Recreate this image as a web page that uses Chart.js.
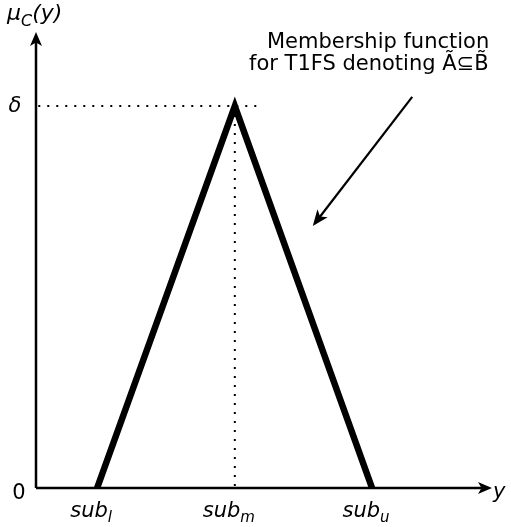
<!DOCTYPE html>
<html>
<head>
<meta charset="utf-8">
<script src="https://cdn.jsdelivr.net/npm/chart.js@4/dist/chart.umd.min.js"></script>
<style>
  body { margin: 0; background: #fff; }
  #wrap { width: 511px; height: 527px; position: relative; }
</style>
</head>
<body>
<div id="wrap"><canvas id="myChart"></canvas></div>
<script>
// x positions of the triangle corners (sub_l, sub_m, sub_u)
const categories = ["l", "m", "u"];
const xValues = [1.34, 4.36, 7.37];
const membership = [0, 1, 0];
const yTickLabels = ["0", "\u03B4"];
const yTickValues = [0, 1];

// dotted guide lines
const guideH = [{ x: 0.05, y: 1 }, { x: 4.87, y: 1 }];
const guideV = [{ x: 4.36, y: 1 }, { x: 4.36, y: 0 }];

// annotation arrow (from, to) and its text
const annoArrow = [{ x: 8.25, y: 1.024 }, { x: 6.07, y: 0.686 }];
const annoText = ["Membership function", "for T1FS denoting \u00C3\u2286B\u0303"];

const ctx = document.getElementById("myChart");
const FONT = "DejaVu Sans";
const FS = 21;

let arrowHead = (c, x1, y1, x2, y2, len, wid) => {
    let a = Math.atan2(y2 - y1, x2 - x1);
    c.beginPath();
    c.moveTo(x2, y2);
    c.lineTo(x2 - len * Math.cos(a) + wid * Math.sin(a), y2 - len * Math.sin(a) - wid * Math.cos(a));
    c.lineTo(x2 - len * Math.cos(a) * 0.75, y2 - len * Math.sin(a) * 0.75);
    c.lineTo(x2 - len * Math.cos(a) - wid * Math.sin(a), y2 - len * Math.sin(a) + wid * Math.cos(a));
    c.closePath();
    c.fill();
};

let subText = (c, base, sub, cx, y, size) => {
    c.font = "italic " + size + "px " + FONT;
    let w1 = c.measureText(base).width;
    c.font = "italic " + Math.round(size * 0.72) + "px " + FONT;
    let w2 = c.measureText(sub).width;
    let x = cx - (w1 + w2) / 2;
    c.font = "italic " + size + "px " + FONT;
    c.textAlign = "left";
    c.fillText(base, x, y);
    c.font = "italic " + Math.round(size * 0.72) + "px " + FONT;
    c.fillText(sub, x + w1, y + size * 0.25);
    return x;
};

const decor = {
    id: "decor",
    afterDraw(chart) {
        const c = chart.ctx;
        const xs = chart.scales.x, ys = chart.scales.y;
        const x0 = xs.getPixelForValue(0), y0 = ys.getPixelForValue(0);
        const xEnd = chart.chartArea.right, yEnd = chart.chartArea.top;
        c.save();
        c.fillStyle = "#000";
        c.strokeStyle = "#000";
        c.lineWidth = 2.5;
        // axes
        c.beginPath();
        c.moveTo(x0, y0); c.lineTo(xEnd - 8, y0);
        c.moveTo(x0, y0); c.lineTo(x0, yEnd + 8);
        c.stroke();
        arrowHead(c, x0, y0, xEnd, y0, 14, 6);
        arrowHead(c, x0, y0, x0, yEnd, 14, 6);

        // annotation arrow
        const ax1 = xs.getPixelForValue(annoArrow[0].x), ay1 = ys.getPixelForValue(annoArrow[0].y);
        const ax2 = xs.getPixelForValue(annoArrow[1].x), ay2 = ys.getPixelForValue(annoArrow[1].y);
        c.lineWidth = 2.2;
        c.beginPath();
        c.moveTo(ax1, ay1);
        c.lineTo(ax2 + (ax1 - ax2) * 0.07, ay2 + (ay1 - ay2) * 0.07);
        c.stroke();
        arrowHead(c, ax1, ay1, ax2, ay2, 16, 6.5);

        // text
        c.textBaseline = "alphabetic";
        c.font = FS + "px " + FONT;
        c.textAlign = "left";
        c.fillText(annoText[0], 267, 48);
        c.fillText(annoText[1], 249, 70);

        c.font = FS + "px " + FONT;
        c.textAlign = "center";
        c.fillText(yTickLabels[0], 19, y0 + 11);
        c.font = "italic " + FS + "px " + FONT;
        c.fillText(yTickLabels[1], 15, ys.getPixelForValue(yTickValues[1]) + 6);
        c.textAlign = "left";
        c.fillText("y", xEnd + 1, y0 + 10);

        // y axis title mu_C(y)
        c.font = "italic 22px " + FONT;
        let wmu = c.measureText("\u03BC").width;
        c.fillText("\u03BC", 7, 20);
        c.font = "italic 16px " + FONT;
        let wc = c.measureText("C").width;
        c.fillText("C", 7 + wmu, 26);
        c.font = "italic 22px " + FONT;
        c.fillText("(y)", 7 + wmu + wc, 20);

        // x tick labels
        for (let i = 0; i < categories.length; i++) {
            subText(c, "sub", categories[i], xs.getPixelForValue(xValues[i]) - 6, y0 + 29, FS);
        }
        c.restore();
    }
};

new Chart(ctx, {
    type: "scatter",
    data: {
        datasets: [
            {
                data: xValues.map((x, i) => ({ x: x, y: membership[i] })),
                showLine: true,
                borderColor: "#000",
                borderWidth: 6.5,
                pointRadius: 0,
                borderJoinStyle: "miter",
                order: 1
            },
            {
                data: guideH,
                showLine: true,
                borderColor: "#000",
                borderWidth: 2,
                borderDash: [2, 7],
                pointRadius: 0,
                order: 2
            },
            {
                data: guideV,
                showLine: true,
                borderColor: "#000",
                borderWidth: 2,
                borderDash: [2, 7],
                pointRadius: 0,
                order: 2
            }
        ]
    },
    options: {
        animation: false,
        responsive: true,
        maintainAspectRatio: false,
        layout: { padding: { left: 36, right: 19, top: 32, bottom: 39 } },
        scales: {
            x: { type: "linear", min: 0, max: 10, display: false },
            y: { type: "linear", min: 0, max: 1.194, display: false }
        },
        plugins: {
            legend: { display: false },
            tooltip: { enabled: false }
        }
    },
    plugins: [decor]
});
</script>
</body>
</html>
